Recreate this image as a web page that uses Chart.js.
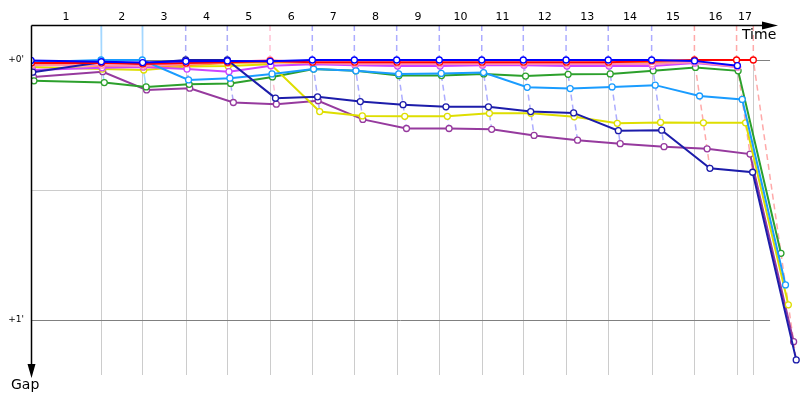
<!DOCTYPE html>
<html>
<head>
<meta charset="utf-8">
<script src="https://cdn.jsdelivr.net/npm/chart.js@4"></script>
<style>
  html, body { margin: 0; padding: 0; background: #fff; }
  #wrap { width: 800px; height: 400px; }
</style>
</head>
<body>
<div id="wrap"><canvas id="chart"></canvas></div>
<script>
// leader's elapsed time (s) at the end of each lap, index 0 = start
var lapTimes = [0, 113, 179.5, 249.5, 316.6, 385.5, 453.7, 521.5, 589.8, 658.5, 727, 794, 863, 931, 1001, 1070, 1138, 1165];
var lapLabels = ['1', '2', '3', '4', '5', '6', '7', '8', '9', '10', '11', '12', '13', '14', '15', '16', '17'];
// who led each lap (1..17), gives the colour of the lap line
var lapLeader = ['lightBlue', 'lightBlue', 'navy', 'navy', 'pink', 'blue', 'blue', 'blue', 'blue', 'blue', 'blue', 'blue', 'blue', 'blue', 'red', 'red', 'red'];

// gap to the leader (s) at the end of each lap, index 0 = start
var gapBlue      = [0.1, 0.4, 0.6, 0.3, 0.2, 0.3, 0, 0, 0, 0, 0, 0, 0, 0, 0, 0.2, 1.3, null];
var gapRed       = [0.7, 0.7, 0.9, 0.7, 0.5, 0.2, 0.5, 0.5, 0.5, 0.5, 0.5, 0.5, 0.5, 0.5, 0.2, 0, 0, 0];
var gapNavy      = [2.8, 0.5, 0.8, 0, 0, 8.8, 8.5, 9.6, 10.3, 10.8, 10.8, 11.9, 12.2, 16.3, 16.2, 25.0, 25.9, 69.2];
var gapLightBlue = [0.5, 0, 0, 4.6, 4.2, 3.2, 2.1, 2.5, 3.2, 3.1, 2.9, 6.3, 6.6, 6.2, 5.8, 8.3, 9.1, 51.9];
var gapPink      = [1.2, 1.2, 1.4, 0.9, 0.5, 0, 0.7, 0.9, 0.9, 0.9, 0.9, 0.9, 0.9, 0.9, 0.9, 0.5, 1.6, null];
var gapViolet    = [2.3, 1.8, 1.6, 2.1, 2.7, 1.3, 1.0, 1.2, 1.4, 1.4, 1.2, 1.2, 1.4, 1.4, 1.4, 0.7, 1.6, null];
var gapOrange    = [1.0, 1.4, 1.6, 1.2, 0.7, 0.5, 0.7, 0.7, 0.7, 0.7, 0.7, 0.7, 0.7, 0.7, 0.7, 0.5, 1.4, null];
var gapYellow    = [1.6, 2.1, 2.3, 1.5, 1.4, 1.0, 11.9, 12.9, 13.0, 13.0, 12.3, 12.3, 13.1, 14.6, 14.4, 14.5, 14.5, 56.5];
var gapGreen     = [4.8, 5.2, 6.2, 5.6, 5.4, 3.9, 2.1, 2.5, 3.6, 3.6, 3.2, 3.7, 3.3, 3.2, 2.5, 1.7, 2.5, 44.6];
var gapPurple    = [3.9, 2.7, 6.9, 6.5, 9.8, 10.2, 9.4, 13.7, 15.8, 15.8, 16.0, 17.4, 18.5, 19.3, 20.0, 20.5, 21.7, 65.0];

var yTickValues = [0, 60];
var yTickLabels = ["+0'", "+1'"];
var yGridValues = [0, 30, 60];

var colors = {
    blue: '#0000ff',
    red: '#ff0000',
    navy: '#1c1caa',
    lightBlue: '#1a9cff',
    pink: '#ff8cb4',
    violet: '#cc44ff',
    orange: '#ff9a1a',
    yellow: '#dede00',
    green: '#2ca02c',
    purple: '#963a9e'
};
var lapLineColors = {
    lightBlue: 'rgba(26, 156, 255, 0.4)',
    navy: 'rgba(70, 70, 240, 0.45)',
    blue: 'rgba(70, 70, 255, 0.45)',
    pink: 'rgba(255, 120, 160, 0.45)',
    red: 'rgba(255, 40, 40, 0.4)'
};

var drivers = [
    {key: 'blue', gaps: gapBlue},
    {key: 'red', gaps: gapRed},
    {key: 'navy', gaps: gapNavy},
    {key: 'lightBlue', gaps: gapLightBlue},
    {key: 'pink', gaps: gapPink},
    {key: 'violet', gaps: gapViolet},
    {key: 'orange', gaps: gapOrange},
    {key: 'yellow', gaps: gapYellow},
    {key: 'green', gaps: gapGreen},
    {key: 'purple', gaps: gapPurple}
];

var Y_MIN = -8.08;
var Y_MAX = 73.15;
var GRID_END = 1192;

// a driver's point: elapsed time = leader time + gap
var toPoints = function(gaps) {
    var pts = [];
    gaps.forEach(function(g, i) {
        if (g !== null) {
            pts.push({x: lapTimes[i] + g, y: g});
        }
    });
    return pts;
};

var datasets = drivers.map(function(d) {
    return {
        data: toPoints(d.gaps),
        borderColor: colors[d.key],
        backgroundColor: '#ffffff',
        borderWidth: 2,
        pointRadius: 3,
        pointBorderWidth: 1.3,
        pointBackgroundColor: '#ffffff',
        pointBorderColor: colors[d.key],
        tension: 0
    };
});

// dashed lap lines joining every driver at the same lap
for (var k = 1; k < lapTimes.length; k++) {
    var pts = [{x: lapTimes[k], y: Y_MIN}];
    var lap = [];
    drivers.forEach(function(d) {
        var g = d.gaps[k];
        if (g !== null) {
            lap.push({x: lapTimes[k] + g, y: g});
        }
    });
    lap.sort(function(a, b) { return a.y - b.y; });
    pts = pts.concat(lap);
    var leader = lapLeader[k - 1];
    datasets.push({
        data: pts,
        borderColor: lapLineColors[leader],
        borderWidth: 1.5,
        borderDash: leader === 'lightBlue' ? [] : [6, 4],
        pointRadius: 0,
        tension: 0
    });
}

var decor = {
    id: 'decor',
    beforeDatasetsDraw: function(chart) {
        var ctx = chart.ctx;
        var xs = chart.scales.x;
        var ys = chart.scales.y;
        var area = chart.chartArea;
        var x0 = xs.getPixelForValue(0);
        var x1 = xs.getPixelForValue(GRID_END);
        ctx.save();
        // vertical lap grid
        ctx.strokeStyle = '#cccccc';
        ctx.lineWidth = 1;
        lapTimes.slice(1).forEach(function(t) {
            var px = Math.round(xs.getPixelForValue(t)) + 0.5;
            ctx.beginPath();
            ctx.moveTo(px, ys.getPixelForValue(0));
            ctx.lineTo(px, area.bottom - 2);
            ctx.stroke();
        });
        // horizontal gap grid
        yGridValues.forEach(function(v) {
            var py = Math.round(ys.getPixelForValue(v)) + 0.5;
            ctx.strokeStyle = yTickValues.indexOf(v) >= 0 ? '#808080' : '#cccccc';
            ctx.beginPath();
            ctx.moveTo(x0, py);
            ctx.lineTo(x1, py);
            ctx.stroke();
        });
        ctx.restore();
    },
    afterDatasetsDraw: function(chart) {
        var ctx = chart.ctx;
        var xs = chart.scales.x;
        var ys = chart.scales.y;
        var area = chart.chartArea;
        var ax = Math.round(area.left) + 0.5;
        var ay = Math.round(area.top) + 0.5;
        ctx.save();
        ctx.strokeStyle = '#000';
        ctx.fillStyle = '#000';
        ctx.lineWidth = 1.5;
        // time axis along the top
        ctx.beginPath();
        ctx.moveTo(ax, ay);
        ctx.lineTo(770, ay);
        ctx.stroke();
        ctx.beginPath();
        ctx.moveTo(778, ay);
        ctx.lineTo(762, ay - 4);
        ctx.lineTo(762, ay + 4);
        ctx.closePath();
        ctx.fill();
        // gap axis down the left
        ctx.beginPath();
        ctx.moveTo(ax, ay);
        ctx.lineTo(ax, area.bottom - 6);
        ctx.stroke();
        ctx.beginPath();
        ctx.moveTo(ax, area.bottom + 1);
        ctx.lineTo(ax - 4, area.bottom - 13);
        ctx.lineTo(ax + 4, area.bottom - 13);
        ctx.closePath();
        ctx.fill();

        // lap numbers between the lap lines
        ctx.font = '11px "DejaVu Sans"';
        ctx.textAlign = 'center';
        ctx.textBaseline = 'middle';
        lapLabels.forEach(function(lbl, i) {
            var mid = (xs.getPixelForValue(lapTimes[i]) + xs.getPixelForValue(lapTimes[i + 1])) / 2;
            ctx.fillText(lbl, mid, 17);
        });
        // gap tick labels
        ctx.font = '9px "DejaVu Sans"';
        ctx.textAlign = 'right';
        yTickValues.forEach(function(v, i) {
            ctx.fillText(yTickLabels[i], 24, ys.getPixelForValue(v));
        });
        // axis titles
        ctx.font = '14px "DejaVu Sans"';
        ctx.textAlign = 'left';
        ctx.fillText('Time', 742, 35);
        ctx.fillText('Gap', 11, 385);
        ctx.restore();
    }
};

new Chart(document.getElementById('chart'), {
    type: 'line',
    data: {datasets: datasets},
    options: {
        responsive: true,
        maintainAspectRatio: false,
        animation: false,
        layout: {autoPadding: false, padding: {left: 31, top: 25, right: 0, bottom: 23}},
        scales: {
            x: {type: 'linear', min: 0, max: 1240.3, display: false},
            y: {type: 'linear', min: Y_MIN, max: Y_MAX, reverse: true, display: false}
        },
        plugins: {
            legend: {display: false},
            tooltip: {enabled: false}
        }
    },
    plugins: [decor]
});
</script>
</body>
</html>
